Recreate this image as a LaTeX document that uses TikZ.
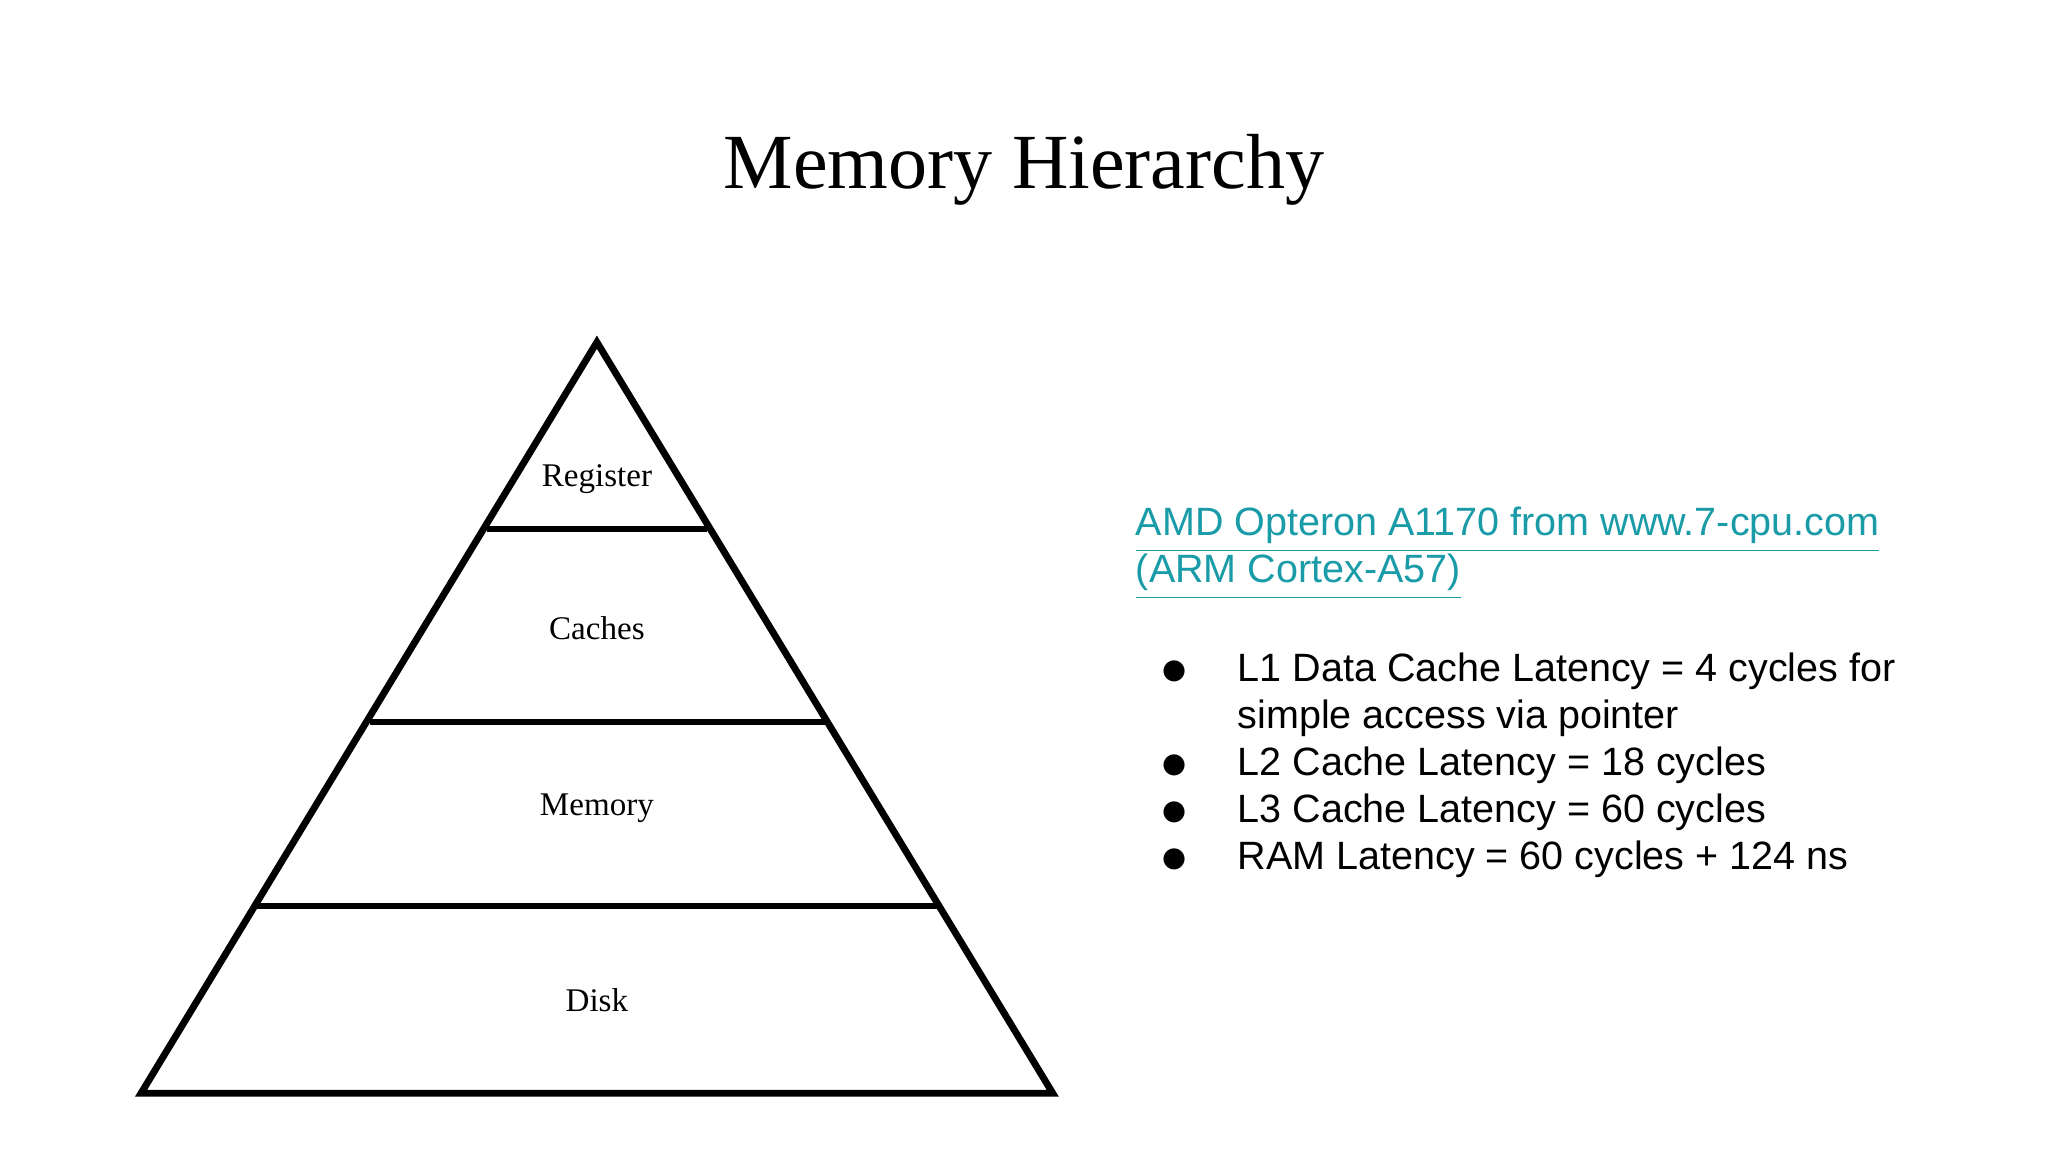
\documentclass[tikz,border=0pt]{standalone}
\usepackage{fontspec}
\setmainfont{Liberation Serif}
\newfontfamily\arial{Liberation Sans}
\newfontfamily\dej{DejaVu Sans}
\definecolor{linkc}{HTML}{1A9BA8}
\begin{document}
\begin{tikzpicture}[x=0.01cm,y=-0.01cm,
  lvl/.style={font=\fontsize{7.2}{8}\selectfont},
  body/.style={font=\arial\fontsize{8.6}{10.2}\selectfont,anchor=west,inner sep=0pt},
  bul/.style={font=\dej\fontsize{6}{7}\selectfont,inner sep=0pt}]
\useasboundingbox (0,0) rectangle (1568,882);
\fill[white] (0,0) rectangle (1568,882);
\node[font=\fontsize{17}{20}\selectfont] (title) at (784,130) {Memory Hierarchy};
\draw[line width=1.5pt,line join=miter] (457,262) -- (806,837) -- (108,837) -- cycle;
\draw[line width=1.3pt] (373,405) -- (541,405);
\draw[line width=1.3pt] (283,553) -- (632,553);
\draw[line width=1.3pt] (197,694) -- (718,694);
\node[lvl] (reg) at (457,367) {Register};
\node[lvl] (cac) at (457,481) {Caches};
\node[lvl] (mem) at (457,619) {Memory};
\node[lvl] (dsk) at (457,766) {Disk};
\node[body,text=linkc] (l1) at (869,406) {\underline{AMD Opteron A1170 from www.7-cpu.com}};
\node[body,text=linkc] (l2) at (869,442) {\underline{(ARM Cortex-A57)}};
\foreach \y/\t [count=\i] in {514/{L1 Data Cache Latency = 4 cycles for},550/{simple access via pointer},586/{L2 Cache Latency = 18 cycles},622/{L3 Cache Latency = 60 cycles},658/{RAM Latency = 60 cycles + 124 ns}}
  \node[body] (t\i) at (947,\y) {\t};
\foreach \y [count=\i] in {514,586,622,658}
  \node[bul] (b\i) at (899,\y) {●};
\end{tikzpicture}
\end{document}
